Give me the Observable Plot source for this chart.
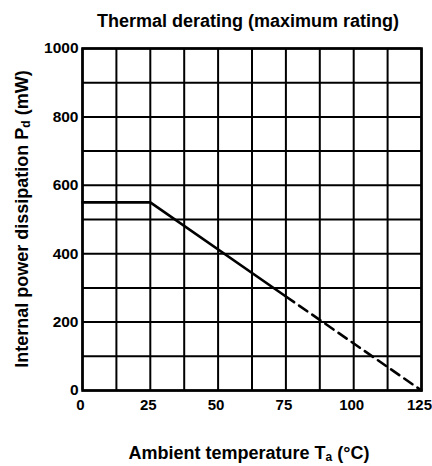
<!DOCTYPE html>
<html><head><meta charset="utf-8">
<script src="https://cdn.jsdelivr.net/npm/d3@7"></script>
<script src="https://cdn.jsdelivr.net/npm/@observablehq/plot@0.6"></script>
<style>body{margin:0;background:#fff} svg{display:block}</style>
</head><body><div id="chart"></div>
<script>
// Derating curve (solid part and extrapolated dashed part)
const ambientTempSolid = [0, 25, 75];
const powerSolid = [550, 550, 275];
const ambientTempDashed = [75, 125];
const powerDashed = [275, 0];
// Axes
const xTickValues = [0, 25, 50, 75, 100, 125];
const yTickValues = [0, 200, 400, 600, 800, 1000];
const xGridValues = [0, 12.5, 25, 37.5, 50, 62.5, 75, 87.5, 100, 112.5, 125];
const yGridValues = [0, 100, 200, 300, 400, 500, 600, 700, 800, 900, 1000];
const titleText = "Thermal derating (maximum rating)";

const solid = ambientTempSolid.map((t, i) => ({t, p: powerSolid[i]}));
const dashed = ambientTempDashed.map((t, i) => ({t, p: powerDashed[i]}));

const font = "'Liberation Sans', Arial, sans-serif";
const chart = Plot.plot({
  width: 432, height: 466,
  marginLeft: 82, marginRight: 11, marginTop: 48, marginBottom: 76,
  style: {fontFamily: font, background: "#fff", color: "#000"},
  x: {domain: [0, 125]},
  y: {domain: [0, 1000]},
  marks: [
    Plot.ruleX(xGridValues, {stroke: "#000", strokeWidth: 2}),
    Plot.ruleY(yGridValues, {stroke: "#000", strokeWidth: 2}),
    Plot.line(solid, {x: "t", y: "p", stroke: "#000", strokeWidth: 2.6}),
    Plot.line(dashed, {x: "t", y: "p", stroke: "#000", strokeWidth: 2.6, strokeDasharray: "10,6"}),
    Plot.frame({stroke: "#000", strokeWidth: 2.6}),
    Plot.axisX(xTickValues, {tickSize: 0, tickPadding: 9, dx: -2, fontSize: 15, fontWeight: "bold", tickFormat: d3.format("d"), label: null}),
    Plot.axisY(yTickValues, {tickSize: 0, tickPadding: 4, fontSize: 15.5, fontWeight: "bold", tickFormat: d3.format("d"), label: null})
  ]
});
document.getElementById("chart").append(chart);

const svg = d3.select(chart);
svg.append("text")
  .attr("x", 248).attr("y", 27)
  .attr("text-anchor", "middle")
  .attr("font-family", font).attr("font-size", 18).attr("font-weight", "bold")
  .text(titleText);

const xl = svg.append("text")
  .attr("x", 249).attr("y", 459)
  .attr("text-anchor", "middle")
  .attr("font-family", font).attr("font-size", 18).attr("font-weight", "bold");
xl.append("tspan").text("Ambient temperature T");
xl.append("tspan").attr("font-size", 12).attr("dy", 2).text("a");
xl.append("tspan").attr("dy", -2).text(" (°C)");

const yl = svg.append("text")
  .attr("transform", "translate(28,219) rotate(-90)")
  .attr("text-anchor", "middle")
  .attr("font-family", font).attr("font-size", 18).attr("font-weight", "bold");
yl.append("tspan").text("Internal power dissipation P");
yl.append("tspan").attr("font-size", 12).attr("dy", 2).text("d");
yl.append("tspan").attr("dy", -2).text(" (mW)");
</script></body></html>
